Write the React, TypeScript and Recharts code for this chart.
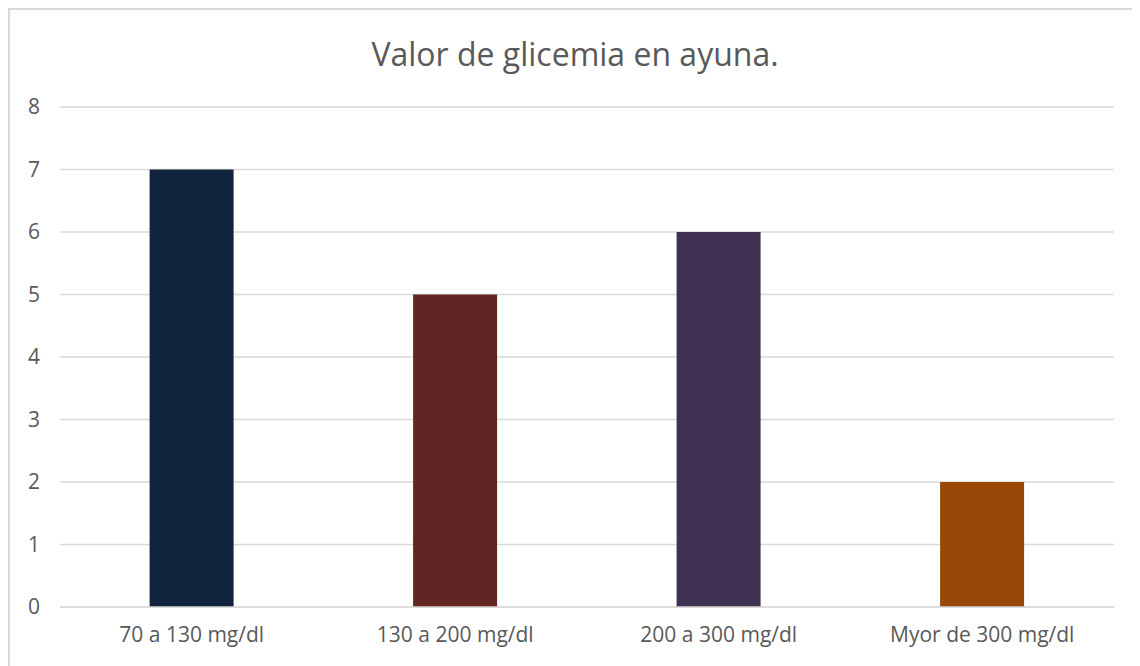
import { BarChart, Bar, XAxis, YAxis, CartesianGrid, Cell } from 'recharts';

const categories = ['70 a 130 mg/dl', '130 a 200 mg/dl', '200 a 300 mg/dl', 'Myor de 300 mg/dl'];
const values = [7, 5, 6, 2];
const barColors = ['#10243e', '#632523', '#3f3151', '#974806'];
const yTicks = [0, 1, 2, 3, 4, 5, 6, 7, 8];

const data = categories.map((name, i) => ({ name, value: values[i] }));

const font = '"Open Sans", sans-serif';
const textColor = '#595959';

export default function App() {
  return (
    <div
      style={{
        position: 'relative',
        width: 1140,
        height: 670,
        border: '2px solid #d9d9d9',
        background: '#fff',
        fontFamily: font,
        boxSizing: 'border-box',
      }}
    >
      <div
        style={{
          position: 'absolute',
          top: 22,
          left: 0,
          width: 1130,
          textAlign: 'center',
          fontSize: 32,
          color: textColor,
        }}
      >
        Valor de glicemia en ayuna.
      </div>
      <BarChart
        width={1130}
        height={656}
        data={data}
        margin={{ top: 97, right: 26, left: 0, bottom: 0 }}
        barCategoryGap="34%"
      >
        <CartesianGrid vertical={false} stroke="#d9d9d9" strokeWidth={1.5} />
        <XAxis
          dataKey="name"
          height={59}
          axisLine={{ stroke: '#d9d9d9', strokeWidth: 1.5 }}
          tickLine={false}
          tickMargin={14}
          tick={{ fill: textColor, fontSize: 21, fontFamily: font }}
        />
        <YAxis
          width={50}
          domain={[0, 8]}
          ticks={yTicks}
          axisLine={false}
          tickLine={false}
          tickMargin={14}
          tick={{ fill: textColor, fontSize: 21, fontFamily: font }}
        />
        <Bar dataKey="value" isAnimationActive={false}>
          {data.map((d, i) => (
            <Cell key={d.name} fill={barColors[i]} />
          ))}
        </Bar>
      </BarChart>
    </div>
  );
}
